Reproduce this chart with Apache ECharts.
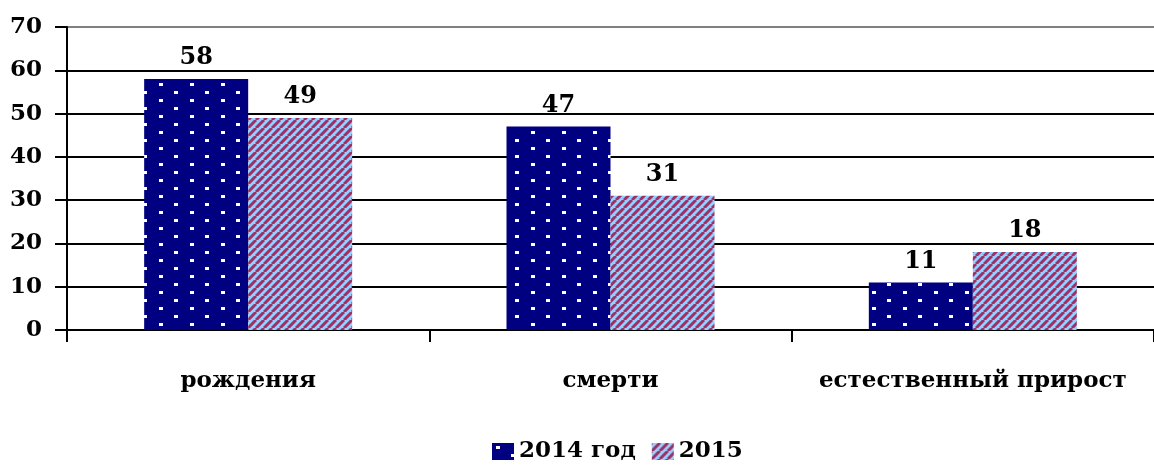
<!DOCTYPE html>
<html>
<head>
<meta charset="utf-8">
<script src="https://cdn.jsdelivr.net/npm/echarts@6/dist/echarts.min.js"></script>
<style>
  html, body { margin: 0; padding: 0; background: #fff; }
  #chart { width: 1154px; height: 468px; }
</style>
</head>
<body>
<div id="chart"></div>
<script>
const categories = ['рождения', 'смерти', 'естественный прирост'];
const seriesNames = ['2014 год', '2015'];
const values2014 = [58, 47, 11];
const values2015 = [49, 31, 18];
const yTicks = [0, 10, 20, 30, 40, 50, 60, 70];

// wide bold serif, closest to the stretched Times look of the original
const FONT = '"DejaVu Serif", "Liberation Serif", serif';

// navy with white dots
const makeDots = () => {
  const c = document.createElement('canvas');
  c.width = 31; c.height = 16;
  const g = c.getContext('2d');
  g.fillStyle = '#000080';
  g.fillRect(0, 0, 31, 16);
  g.fillStyle = '#ffffff';
  g.fillRect(4, 3, 4, 3);
  g.fillRect(19, 11, 4, 3);
  return c;
};

// purple / light blue diagonal stripes
const makeStripes = () => {
  const s = 8;
  const c = document.createElement('canvas');
  c.width = s; c.height = s;
  const g = c.getContext('2d');
  g.fillStyle = '#99ccff';
  g.fillRect(0, 0, s, s);
  g.strokeStyle = '#993366';
  g.lineWidth = 3;
  g.beginPath();
  for (let k = -s; k <= 2 * s; k += s) {
    g.moveTo(k, s);
    g.lineTo(k + s, 0);
  }
  g.stroke();
  return c;
};

const chart = echarts.init(document.getElementById('chart'));

const labelStyle = {
  show: true,
  position: 'top',
  distance: 9,
  color: '#000',
  fontFamily: FONT,
  fontWeight: 'bold',
  fontSize: 24
};

chart.setOption({
  animation: false,
  backgroundColor: '#fff',
  grid: { left: 67, right: -8, top: 27, bottom: 138, containLabel: false },
  legend: {
    bottom: 0,
    left: 487,
    icon: 'rect',
    itemWidth: 22,
    itemHeight: 17,
    itemGap: 16,
    data: seriesNames,
    textStyle: { fontFamily: FONT, fontWeight: 'bold', fontSize: 23, color: '#000' }
  },
  xAxis: {
    type: 'category',
    data: categories,
    axisLine: { lineStyle: { color: '#000', width: 2 } },
    axisTick: { show: true, interval: 0, length: 12, lineStyle: { color: '#000', width: 2 } },
    axisLabel: { interval: 0, margin: 40, color: '#000', fontFamily: FONT, fontWeight: 'bold', fontSize: 23 }
  },
  yAxis: {
    type: 'value',
    min: yTicks[0],
    max: yTicks[yTicks.length - 1],
    interval: 10,
    axisLine: { show: true, lineStyle: { color: '#000', width: 2 } },
    axisTick: { show: true, length: 12, lineStyle: { color: '#000', width: 2 } },
    axisLabel: { margin: 25, color: '#000', fontFamily: FONT, fontWeight: 'bold', fontSize: 23 },
    splitLine: {
      show: true,
      lineStyle: { color: ['#000', '#000', '#000', '#000', '#000', '#000', '#000', '#808080'], width: 2 }
    }
  },
  series: [
    {
      name: seriesNames[0],
      type: 'bar',
      data: values2014,
      barWidth: 104,
      barGap: '0%',
      itemStyle: { color: { image: makeDots(), repeat: 'repeat' } },
      label: labelStyle
    },
    {
      name: seriesNames[1],
      type: 'bar',
      data: values2015,
      barWidth: 104,
      barGap: '0%',
      itemStyle: { color: { image: makeStripes(), repeat: 'repeat' } },
      label: labelStyle
    }
  ]
});
</script>
</body>
</html>
